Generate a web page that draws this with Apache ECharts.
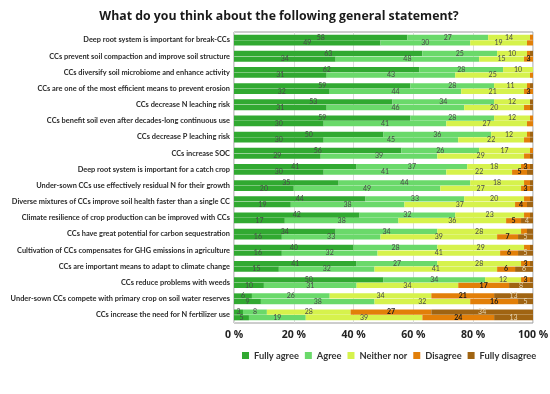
<!DOCTYPE html>
<html><head><meta charset="utf-8">
<script src="https://cdn.jsdelivr.net/npm/echarts@6/dist/echarts.min.js"></script>
<style>html,body{margin:0;padding:0;background:#fff}#c{width:550px;height:394px}</style>
</head><body><div id="c"></div>
<script>
const categories = [
  "Deep root system is important for break-CCs",
  "CCs prevent soil compaction and improve soil structure",
  "CCs diversify soil microbiome and enhance activity",
  "CCs are one of the most efficient means to prevent erosion",
  "CCs decrease N leaching risk",
  "CCs benefit soil even after decades-long continuous use",
  "CCs decrease P leaching risk",
  "CCs increase SOC",
  "Deep root system is important for a catch crop",
  "Under-sown CCs use effectively residual N for their growth",
  "Diverse mixtures of CCs improve soil health faster than a single CC",
  "Climate resilience of crop production can be improved with CCs",
  "CCs have great potential for carbon sequestration",
  "Cultivation of CCs compensates for GHG emissions in agriculture",
  "CCs are important means to adapt to climate change",
  "CCs reduce problems with weeds",
  "Under-sown CCs compete with primary crop on soil water reserves",
  "CCs increase the need for N fertilizer use"
];
const seriesNames = ["Fully agree", "Agree", "Neither nor", "Disagree", "Fully disagree"];
const xTicks = [0, 20, 40, 60, 80, 100];

// Upper bar of each pair
const fullyAgreeA = [58,63,62,59,53,59,50,56,41,35,44,42,34,40,41,50,6,3];
const agreeA      = [27,25,28,28,34,28,36,26,37,44,33,32,34,28,27,34,26,8];
const neitherA    = [14,10,10,11,12,12,12,17,18,18,20,23,28,29,28,12,34,28];
const disagreeA   = [1,1,0,1,0,1,1,1,3,2,2,2,2,2,3,3,21,27];
const fullyDisA   = [0,1,0,1,1,0,1,0,1,1,1,1,2,1,1,1,13,34];
// Lower bar of each pair
const fullyAgreeB = [49,34,31,32,31,30,30,29,30,20,19,17,16,16,15,10,9,5];
const agreeB      = [30,48,43,44,46,41,45,39,41,49,38,38,33,32,32,31,38,19];
const neitherB    = [19,15,25,21,20,27,22,29,22,27,37,36,39,41,41,34,32,39];
const disagreeB   = [2,3,1,3,2,2,2,2,5,3,4,5,7,6,6,17,16,24];
const fullyDisB   = [0,0,0,0,1,0,1,1,2,1,2,4,5,5,6,8,5,13];

const colors = ["#31a931", "#6ad96a", "#d6f24c", "#e27f08", "#a06412"];
const labelStyles = [
  {color:"#4a4a4a", fontWeight:"normal"},
  {color:"#4a4a4a", fontWeight:"normal"},
  {color:"#4a4a4a", fontWeight:"normal"},
  {color:"#1a1a1a", fontWeight:"bold"},
  {color:"#e8d8b8", fontWeight:"normal"}
];
const groupA = [fullyAgreeA, agreeA, neitherA, disagreeA, fullyDisA];
const groupB = [fullyAgreeB, agreeB, neitherB, disagreeB, fullyDisB];

function mk(stack, arr, i){
  return {
    name: seriesNames[i], type: "bar", stack: stack, data: arr,
    barWidth: 5.2, barGap: "8%", barCategoryGap: "30%",
    itemStyle: {color: colors[i]},
    label: {show: true, position: "inside", fontSize: 7, fontFamily: "Lato",
      color: labelStyles[i].color, fontWeight: labelStyles[i].fontWeight,
      formatter: p => p.value >= 3 ? p.value : ""},
    emphasis: {disabled: true}
  };
}
const series = [];
groupA.forEach((a,i)=>series.push(mk("A", a, i)));
groupB.forEach((a,i)=>series.push(mk("B", a, i)));

const chart = echarts.init(document.getElementById("c"), null, {renderer: "canvas"});
chart.setOption({
  animation: false,
  color: colors,
  title: {text: "What do you think about the following general statement?", left: 274, textAlign: "center", top: 5,
    textStyle: {fontSize: 12.3, fontWeight: "bold", color: "#1a1a1a", fontFamily: "Open Sans"}},
  legend: {data: seriesNames, top: 346, left: 237, width: 313, itemWidth: 7, itemHeight: 7, itemGap: 6, icon: "rect",
    textStyle: {fontSize: 9.3, color: "#333", fontFamily: "Lato", fontWeight: "bold"}},
  grid: {left: 234, right: 17, top: 32, bottom: 71, show: true, borderColor: "#9a9a9a", borderWidth: 1,
    containLabel: false, outerBoundsMode: "none"},
  xAxis: {type: "value", min: xTicks[0], max: xTicks[xTicks.length-1], interval: 20,
    axisLine: {show: false}, axisTick: {show: false},
    splitLine: {lineStyle: {color: "#dcdcdc"}},
    axisLabel: {formatter: "{value} %", fontSize: 10.5, fontWeight: "bold", color: "#222", fontFamily: "Open Sans", margin: 7}},
  yAxis: {type: "category", data: categories, inverse: true,
    axisLine: {show: false}, axisTick: {show: false},
    axisLabel: {fontSize: 7.4, fontWeight: "bold", color: "#2a2a2a", fontFamily: "Lato", margin: 4, interval: 0}},
  series: series
});
</script></body></html>
